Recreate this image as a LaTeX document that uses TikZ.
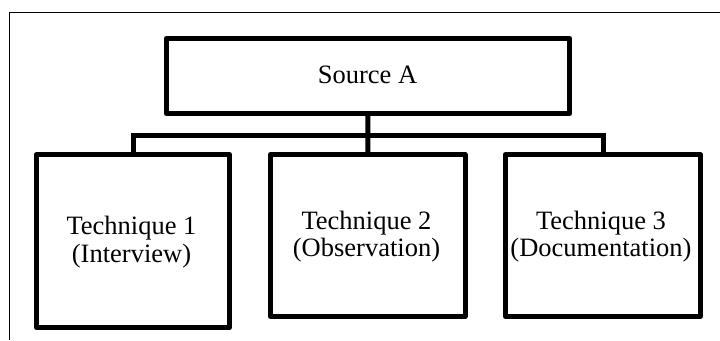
\documentclass[tikz,border=0pt]{standalone}
\usepackage{fontspec}
\setmainfont{Liberation Serif}
\begin{document}
\begin{tikzpicture}[x=1pt,y=-1pt,
  box/.style={draw=black,line width=5pt,line join=round,rectangle,inner sep=0pt,outer sep=0pt},
  conn/.style={draw=black,line width=5pt,line join=miter},
  frameline/.style={draw=black,line width=0.9pt},
  lbl/.style={anchor=base,inner sep=0pt,font=\fontsize{26.5}{28}\selectfont}]
\useasboundingbox (0,0) rectangle (720,340);
% outer frame (top and left edges only)
\coordinate (ftl) at (9,12);
\coordinate (ftr) at (720,12);
\coordinate (fbl) at (9,340);
\draw[frameline] (ftr) -- (ftl) -- (fbl);
% boxes
\node[box,minimum width=403pt,minimum height=75pt] (src) at (368,76) {};
\node[box,minimum width=193pt,minimum height=173pt] (t1) at (133,241) {};
\node[box,minimum width=194.5pt,minimum height=162pt] (t2) at (367.75,235.5) {};
\node[box,minimum width=195pt,minimum height=162pt] (t3) at (603,235.5) {};
% connectors
\coordinate (bus) at (368,135);
\draw[conn] (src.south) -- (t2.north);
\draw[conn] (t1.north) |- (bus) -| (t3.north);
% labels
\node[lbl] (srcl) at (367.5,83) {Source A};
\node[lbl] (t1a) at (131.5,234) {Technique 1};
\node[lbl] (t1b) at (131.5,262) {(Interview)};
\node[lbl] (t2a) at (366.5,229) {Technique 2};
\node[lbl] (t2b) at (366.5,256) {(Observation)};
\node[lbl] (t3a) at (601,229) {Technique 3};
\node[lbl] (t3b) at (601,256) {(Documentation)};
\end{tikzpicture}
\end{document}
